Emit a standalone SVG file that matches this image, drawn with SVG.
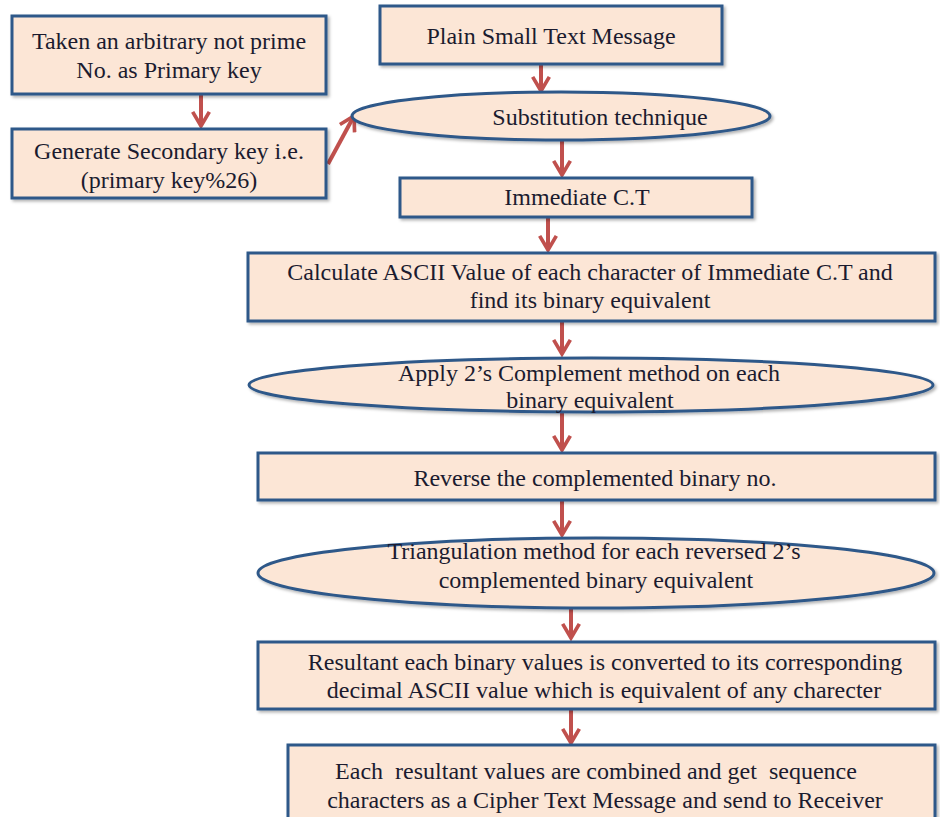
<svg xmlns="http://www.w3.org/2000/svg" width="940" height="817" viewBox="0 0 940 817">
<defs>
<style>
.box{fill:#FCE6D6;stroke:#2F5889;stroke-width:3}
.t{font-size:24px;fill:#1B1B2F;text-anchor:middle}
.c{stroke:#C0504D;stroke-width:4;fill:none}
</style>
<marker id="ah" viewBox="0 0 12 12" refX="10" refY="6" markerWidth="5" markerHeight="5" markerUnits="strokeWidth" orient="auto">
<path d="M1.5,1 L10,6 L1.5,11" fill="none" stroke="#C0504D" stroke-width="2.2"/>
</marker>
<filter id="sh" x="-5%" y="-10%" width="110%" height="130%">
<feDropShadow dx="2" dy="2" stdDeviation="1.5" flood-color="#000" flood-opacity="0.3"/>
</filter>
</defs>
<rect width="940" height="817" fill="#fff"/>
<g id="connectors">
<line class="c" x1="201" y1="95" x2="201" y2="126" marker-end="url(#ah)"/>
<line class="c" x1="328" y1="164" x2="354" y2="116" marker-end="url(#ah)"/>
<line class="c" x1="541" y1="65" x2="541" y2="91" marker-end="url(#ah)"/>
<line class="c" x1="562" y1="140" x2="562" y2="175" marker-end="url(#ah)"/>
<line class="c" x1="548" y1="218" x2="548" y2="250" marker-end="url(#ah)"/>
<line class="c" x1="562" y1="322" x2="562" y2="354" marker-end="url(#ah)"/>
<line class="c" x1="562" y1="412" x2="562" y2="450" marker-end="url(#ah)"/>
<line class="c" x1="562" y1="492" x2="562" y2="535" marker-end="url(#ah)"/>
<line class="c" x1="571" y1="608" x2="571" y2="638" marker-end="url(#ah)"/>
<line class="c" x1="571" y1="710" x2="571" y2="743" marker-end="url(#ah)"/>
</g>
<g font-family="Liberation Serif, Times New Roman, serif">
<g id="n1"><rect class="box" filter="url(#sh)" x="12" y="16" width="314" height="78"/>
<text class="t" x="169" y="49">Taken an arbitrary not prime</text><text class="t" x="169" y="78">No. as Primary key</text></g>
<g id="n2"><rect class="box" filter="url(#sh)" x="12" y="129" width="314" height="69"/>
<text class="t" x="169" y="159">Generate Secondary key i.e.</text><text class="t" x="169" y="188">(primary key%26)</text></g>
<g id="n3"><rect class="box" filter="url(#sh)" x="380" y="6" width="342" height="58"/>
<text class="t" x="551" y="44">Plain Small Text Message</text></g>
<g id="n4"><ellipse class="box" filter="url(#sh)" cx="561" cy="116" rx="209" ry="24"/>
<text class="t" x="600" y="125">Substitution technique</text></g>
<g id="n5"><rect class="box" filter="url(#sh)" x="400" y="178" width="352" height="39"/>
<text class="t" x="577" y="205">Immediate C.T</text></g>
<g id="n6"><rect class="box" filter="url(#sh)" x="248" y="253" width="687" height="68"/>
<text class="t" x="590" y="280">Calculate ASCII Value of each character of Immediate C.T and</text><text class="t" x="590" y="308">find its binary equivalent</text></g>
<g id="n7"><ellipse class="box" filter="url(#sh)" cx="591" cy="385" rx="342" ry="27"/>
<text class="t" x="589" y="381">Apply 2’s Complement method on each</text><text class="t" x="590" y="408">binary equivalent</text></g>
<g id="n8"><rect class="box" filter="url(#sh)" x="258" y="453" width="677" height="47"/>
<text class="t" x="595" y="486">Reverse the complemented binary no.</text></g>
<g id="n9"><ellipse class="box" filter="url(#sh)" cx="596" cy="573" rx="338" ry="35"/>
<text class="t" x="594" y="559">Triangulation method for each reversed 2’s</text><text class="t" x="596" y="588">complemented binary equivalent</text></g>
<g id="n10"><rect class="box" filter="url(#sh)" x="258" y="642" width="677" height="67"/>
<text class="t" x="605" y="670">Resultant each binary values is converted to its corresponding</text><text class="t" x="604" y="698">decimal ASCII value which is equivalent of any charecter</text></g>
<g id="n11"><rect class="box" filter="url(#sh)" x="288" y="745" width="647" height="80"/>
<text class="t" x="596" y="779" xml:space="preserve">Each  resultant values are combined and get  sequence</text><text class="t" x="605" y="808">characters as a Cipher Text Message and send to Receiver</text></g>
</g>
</svg>
